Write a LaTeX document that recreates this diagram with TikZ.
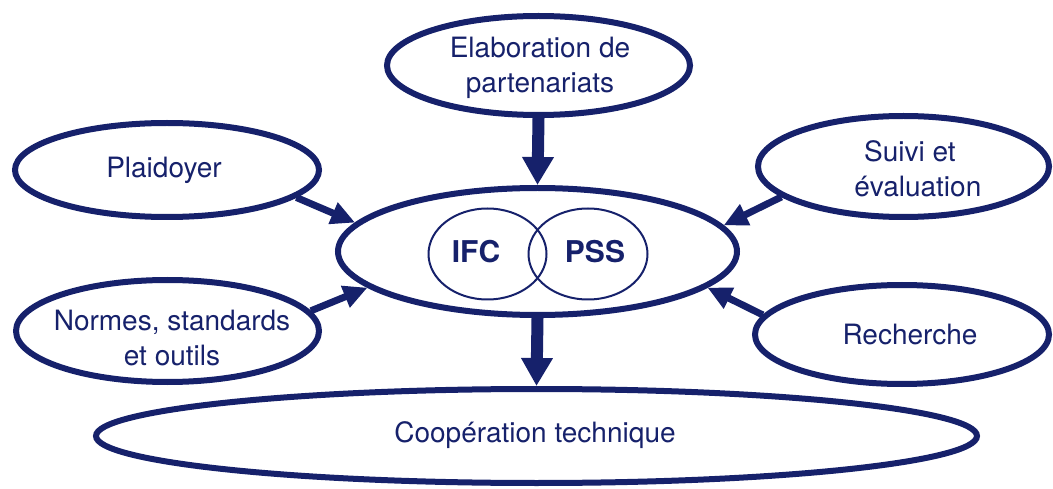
\documentclass[tikz,border=0pt]{standalone}
\usepackage{fontspec}
\setmainfont{TeX Gyre Heros}
\usetikzlibrary{shapes.geometric,arrows.meta}
\definecolor{navy}{RGB}{22,33,107}
\tikzset{
  oval/.style={ellipse, draw=navy, line width=6pt, inner sep=0pt},
  ovtext/.style={inner sep=0pt, align=center, text=navy, font=\fontsize{28}{35}\selectfont},
  venn/.style={ellipse, draw=navy, line width=2pt, inner sep=0pt},
  venntext/.style={text=navy, font=\fontsize{30}{36}\selectfont\bfseries},
  bigarrow/.style={navy, line width=12pt, -{Triangle[length=28pt,width=30pt]}},
  smallarrow/.style={navy, line width=7pt, -{Triangle[length=24pt,width=22pt]}}
}
\begin{document}
\begin{tikzpicture}[x=1pt,y=-1pt]
\useasboundingbox (0,0) rectangle (1053,489);
\node[oval, minimum width=303pt, minimum height=99pt] (elab) at (538.5,65.5) {};
\node[ovtext] (elabt) at (540,68) {Elaboration de\\partenariats};
\node[oval, minimum width=304pt, minimum height=94pt] (plaid) at (167,170) {};
\node[ovtext] (plaidt) at (164,170) {Plaidoyer};
\node[oval, minimum width=291pt, minimum height=101pt] (suivi) at (903.5,166.5) {};
\node[ovtext] (suivit) at (910,169) {Suivi et\\\phantom{é}évaluation};
\node[oval, minimum width=399pt, minimum height=127pt] (center) at (537.5,251.5) {};
\node[oval, minimum width=303pt, minimum height=102pt] (normes) at (167.5,331) {};
\node[ovtext] (normest) at (172,338) {Normes, standards\\et outils};
\node[oval, minimum width=294pt, minimum height=99pt] (rech) at (902,334.5) {};
\node[ovtext] (recht) at (910,335) {Recherche};
\node[oval, minimum width=881pt, minimum height=94pt] (coop) at (536.5,436) {};
\node[ovtext] (coopt) at (535,435) {Coopération technique};
\node[venn, minimum width=118pt, minimum height=91pt] (ifccirc) at (487.5,254) {};
\node[venn, minimum width=119pt, minimum height=91pt] (psscirc) at (588,254) {};
\node[venntext] (ifc) at (476,252) {IFC};
\node[venntext] (pss) at (595,252) {PSS};
\draw[bigarrow] (elab.south) -- (center.north);
\draw[bigarrow] (center.south) -- (coop.north);
\draw[smallarrow] (plaid.-12) -- (center.171);
\draw[smallarrow] (normes.8) -- (center.-168);
\draw[smallarrow] (suivi.194) -- (center.8.5);
\draw[smallarrow] (rech.172) -- (center.-12);
\end{tikzpicture}
\end{document}
